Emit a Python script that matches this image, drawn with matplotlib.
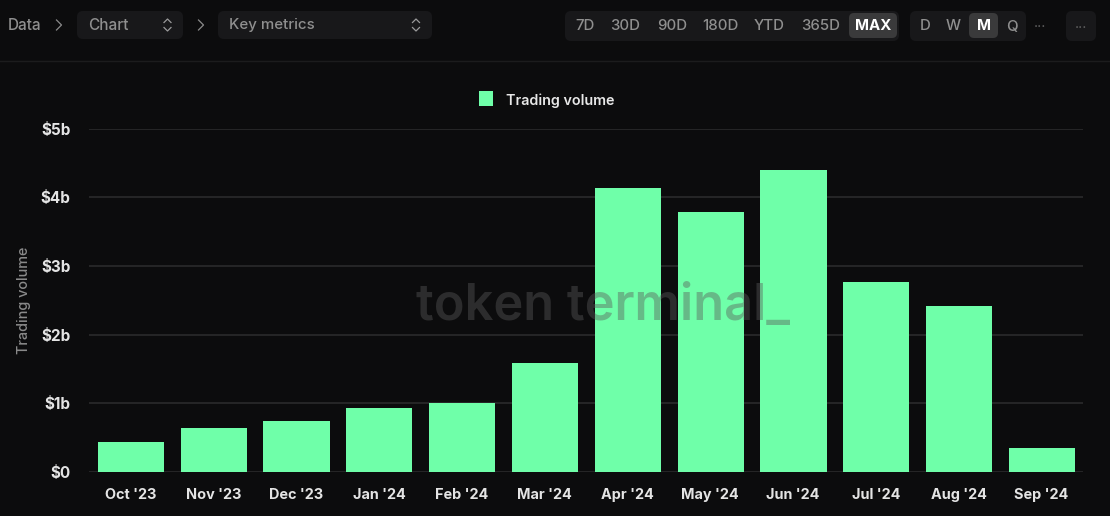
import matplotlib
matplotlib.use("Agg")
import matplotlib.pyplot as plt
from matplotlib.patches import FancyBboxPatch, Rectangle

plt.rcParams['font.family'] = ['Inter', 'DejaVu Sans']

months = ["Oct '23", "Nov '23", "Dec '23", "Jan '24", "Feb '24", "Mar '24",
          "Apr '24", "May '24", "Jun '24", "Jul '24", "Aug '24", "Sep '24"]
volume = [0.44, 0.645, 0.745, 0.935, 1.0, 1.59, 4.14, 3.79, 4.39, 2.77, 2.41, 0.35]
y_ticks = [0, 1, 2, 3, 4, 5]
y_labels = ["$0", "$1b", "$2b", "$3b", "$4b", "$5b"]
range_buttons = [("7D", 585), ("30D", 625.5), ("90D", 672), ("180D", 720), ("YTD", 769.5), ("365D", 820.5), ("MAX", 873)]
period_buttons = [("D", 925), ("W", 953.5), ("M", 983.5), ("Q", 1012)]

W, H = 1110, 516
BG = "#0c0c0d"
GREEN = "#6fffa9"
fig = plt.figure(figsize=(W / 100, H / 100), dpi=100, facecolor=BG)

ui = fig.add_axes([0, 0, 1, 1], zorder=0)
ui.set_xlim(0, W); ui.set_ylim(H, 0); ui.axis("off")

def box(x0, y0, x1, y1, color, r=6, ax=ui):
    ax.add_patch(FancyBboxPatch((x0 + r, y0 + r), x1 - x0 - 2 * r, y1 - y0 - 2 * r,
                                boxstyle=f"round,pad={r},rounding_size={r}",
                                fc=color, ec="none"))

def chevron_right(x, y):
    ui.plot([x - 2.5, x + 2.5, x - 2.5], [y - 5, y, y + 5], color="#8a8a8a", lw=0.9)

def updown(x, y):
    ui.plot([x - 3.5, x, x + 3.5], [y - 2.5, y - 6, y - 2.5], color="#9a9a9a", lw=0.9)
    ui.plot([x - 3.5, x, x + 3.5], [y + 2.5, y + 6, y + 2.5], color="#9a9a9a", lw=0.9)

ui.plot([0, W], [61, 61], color="#1c1c1d", lw=1)
TXT = "#8f8f8f"
ui.text(8, 25.5, "Data", color=TXT, fontsize=11, va="center", fontweight="medium")
chevron_right(59, 25)
box(77, 11, 183, 39, "#18181a")
ui.text(88, 25.5, "Chart", color=TXT, fontsize=11, va="center", fontweight="medium")
updown(157 + 10.5, 25)
chevron_right(201, 25)
box(218, 11, 432, 39, "#18181a")
ui.text(229, 25.5, "Key metrics", color=TXT, fontsize=10.8, va="center", fontweight="medium")
updown(416, 25)

box(565, 11, 899, 41, "#18181a")
box(849, 13, 897, 38, "#3a3a3b", r=5)
for label, x in range_buttons:
    sel = label == "MAX"
    ui.text(x, 26.5, label, color="white" if sel else TXT, fontsize=10.8,
            ha="center", va="center", fontweight="bold" if sel else "medium")
box(910, 11, 1026, 41, "#18181a")
box(969, 13, 998, 38, "#3a3a3b", r=5)
for label, x in period_buttons:
    sel = label == "M"
    ui.text(x, 26.5, label, color="white" if sel else TXT, fontsize=10.8,
            ha="center", va="center", fontweight="bold" if sel else "medium")
ui.text(1040.5, 27, "···", color="#606060", fontsize=10, ha="center", va="center")
box(1066, 11, 1096, 41, "#18181a")
ui.text(1081.5, 28, "···", color="#606060", fontsize=10, ha="center", va="center")

ax = fig.add_axes([89 / W, 1 - 472 / H, (1083 - 89) / W, (472 - 128.5) / H], zorder=1)
ax.set_facecolor("none")
x = range(len(months))
ax.bar([i + 0.005 for i in x], volume, width=0.8, color=GREEN, zorder=2)
ax.set_xlim(-0.5, 11.5)
ax.set_ylim(0, 5)
ax.set_xticks(list(x), months)
ax.set_yticks(y_ticks, y_labels)
ax.grid(axis="y", color="#2b2b2c", lw=1.2, zorder=0)
ax.set_axisbelow(True)
ax.tick_params(length=0, colors="#e4e4e4", labelsize=10.4)
ax.tick_params(axis="x", pad=11.5)
ax.tick_params(axis="y", pad=13.5, labelsize=11)
for t in ax.get_xticklabels() + ax.get_yticklabels():
    t.set_fontweight("bold")
for s in ax.spines.values():
    s.set_visible(False)
ui.text(24, 300, "Trading volume", color="#8a8a8a", fontsize=10.4, rotation=90,
        ha="center", va="center", fontweight="medium")

ov = fig.add_axes([0, 0, 1, 1], zorder=2)
ov.set_xlim(0, W); ov.set_ylim(H, 0); ov.axis("off")
ov.add_patch(Rectangle((479, 91), 14, 15, fc=GREEN, ec="none"))
ov.text(505.5, 100.5, "Trading volume", color="#e8e8e8", fontsize=10.3, va="center", fontweight="semibold")
ov.text(416, 306.5, "token terminal_", color="#5a5a5a", alpha=0.42, fontsize=36.4,
        fontweight="semibold", va="center")

fig.savefig("out.png", dpi=100, facecolor=BG)
